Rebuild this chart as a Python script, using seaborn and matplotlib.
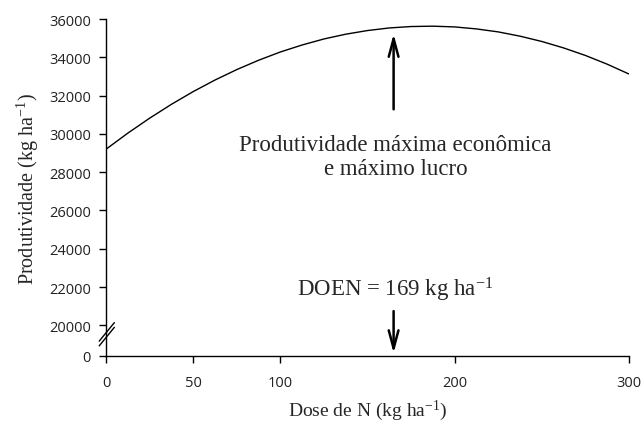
import matplotlib
matplotlib.use('Agg')
from matplotlib import pyplot as plt
import seaborn as sns
import pandas as pd

# Values
dose = [0, 12.5, 25, 37.5, 50, 62.5, 75, 87.5, 100, 112.5, 125, 137.5, 150,
        162.5, 175, 187.5, 200, 212.5, 225, 237.5, 250, 262.5, 275, 287.5, 300]
produtividade = [29200, 30040, 30820, 31545, 32210, 32814, 33360, 33847, 34280,
                 34646, 34960, 35209, 35400, 35536, 35610, 35629, 35590, 35486,
                 35330, 35107, 34830, 34493, 34100, 33644, 33130]

doen = 165          # arrow position on the x axis
y_break = 18400     # where the "0" of the broken y axis sits
y_ticks = [y_break, 20000, 22000, 24000, 26000, 28000, 30000, 32000, 34000, 36000]
y_labels = ['0', '20000', '22000', '24000', '26000', '28000', '30000', '32000', '34000', '36000']
x_ticks = [0, 50, 100, 200, 300]

df = pd.DataFrame({'dose': dose, 'prod': produtividade})

sns.set_style('ticks')
plt.rcParams['mathtext.fontset'] = 'custom'
plt.rcParams['mathtext.rm'] = 'Liberation Serif'
plt.rcParams['mathtext.default'] = 'regular'
serif = ['Liberation Serif', 'DejaVu Serif']
sans = ['Open Sans', 'DejaVu Sans']

fig = plt.figure(figsize=(6.44, 4.27), dpi=100)
ax = fig.add_axes([0.1646, 0.164, 0.812, 0.789])

sns.lineplot(data=df, x='dose', y='prod', color='black', linewidth=1.0, ax=ax)

ax.set_xlim(0, 300)
ax.set_ylim(y_break, 36000)
ax.set_xticks(x_ticks)
ax.set_yticks(y_ticks)
ax.set_yticklabels(y_labels)
for lab in ax.get_xticklabels() + ax.get_yticklabels():
    lab.set_fontfamily(sans)
    lab.set_fontsize(10.5)
ax.tick_params(axis='x', length=5, width=1, pad=9, colors='black', labelcolor='#222222')
ax.tick_params(axis='y', length=5, width=1, pad=6, colors='black', labelcolor='#222222')

sns.despine(ax=ax)
for s in ['left', 'bottom']:
    ax.spines[s].set_linewidth(1.0)
    ax.spines[s].set_color('black')

ax.set_xlabel('Dose de N (kg ha$^{-1}$)', family=serif, fontsize=14, labelpad=5)
ax.set_ylabel('Produtividade (kg ha$^{-1}$)', family=serif, fontsize=14.5, labelpad=6)

# axis break marks
for dy in (0, 0.014):
    ax.plot([-0.013, 0.016], [0.03 + dy, 0.085 + dy], transform=ax.transAxes,
            color='black', linewidth=1.0, clip_on=False)

# arrows
ax.annotate('', xy=(doen, 35370), xytext=(doen, 31140),
            arrowprops=dict(arrowstyle='->,head_length=1.3,head_width=0.35',
                            color='black', linewidth=1.8))
ax.annotate('', xy=(doen, y_break), xytext=(doen, 20890),
            arrowprops=dict(arrowstyle='->,head_length=1.3,head_width=0.35',
                            color='black', linewidth=1.8))

ax.text(166, 28800, 'Produtividade máxima econômica\ne máximo lucro',
        ha='center', va='center', family=serif, fontsize=16.5, linespacing=1.2)
ax.text(166, 21900, 'DOEN = 169 kg ha$^{-1}$', ha='center', va='center',
        family=serif, fontsize=16.5)

fig.savefig('out.png', dpi=100)
